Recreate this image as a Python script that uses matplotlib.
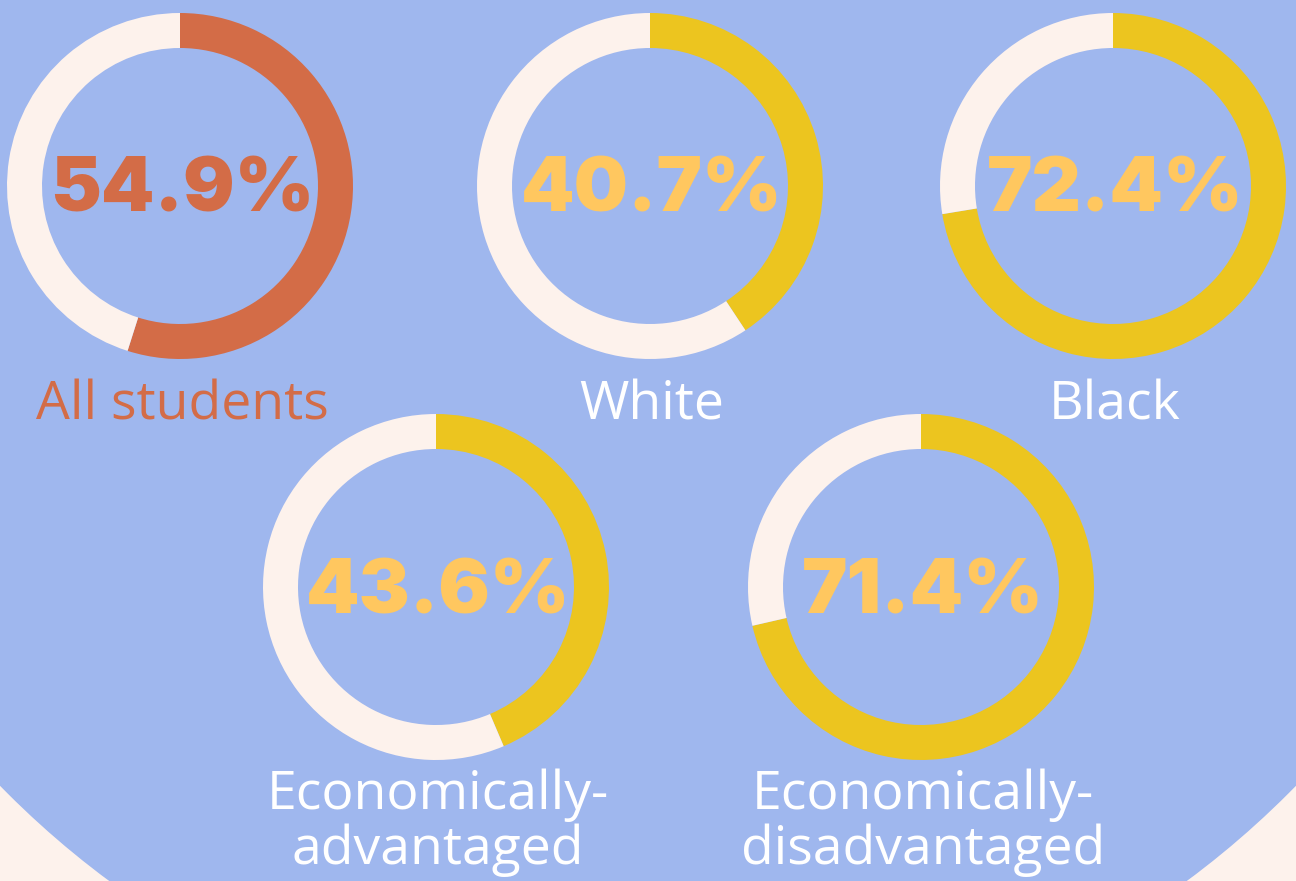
import matplotlib.pyplot as plt
from matplotlib import font_manager
from matplotlib.patches import Circle

# data
groups = ['All students', 'White', 'Black',
          'Economically-\nadvantaged', 'Economically-\ndisadvantaged']
shares = [54.9, 40.7, 72.4, 43.6, 71.4]

BLUE = '#9fb7ee'
CREAM = '#fdf2ec'
ORANGE = '#d36c47'
YELLOW = '#ecc51f'
PCT_YELLOW = '#ffc75f'


def pick_font(names, weight):
    for n in names:
        try:
            font_manager.findfont(font_manager.FontProperties(family=n, weight=weight),
                                  fallback_to_default=False)
            return n
        except ValueError:
            pass
    return 'DejaVu Sans'


pct_font = pick_font(['Inter', 'Roboto', 'Lato'], 'black')
lab_font = pick_font(['Open Sans', 'Noto Sans'], 'normal')

W, H = 1296, 881
# donut centres in image pixels (x, y from top)
centres = [(180, 186), (650, 186), (1113, 186), (436, 587), (921, 587)]
ring_colors = [ORANGE, YELLOW, YELLOW, YELLOW, YELLOW]
pct_colors = [ORANGE, PCT_YELLOW, PCT_YELLOW, PCT_YELLOW, PCT_YELLOW]
label_colors = [ORANGE, 'white', 'white', 'white', 'white']

fig = plt.figure(figsize=(W / 100, H / 100), dpi=100, facecolor=CREAM)
ax = fig.add_axes([0, 0, 1, 1])
ax.set_facecolor(CREAM)

ax.add_patch(Circle((648, H - 153), 905, color=BLUE, zorder=0))

for i, (g, v) in enumerate(zip(groups, shares)):
    cx, cy = centres[i]
    ax.pie([v, 100 - v], colors=[ring_colors[i], CREAM], startangle=90,
           counterclock=False, center=(cx, H - cy), radius=173,
           wedgeprops=dict(width=35, linewidth=0), frame=True)
    ax.text(cx + 2, H - cy - 26, f'{v}%', ha='center', va='baseline',
            fontsize=55, fontfamily=pct_font, fontweight='black',
            color=pct_colors[i], zorder=5)
    # va='baseline' puts the last line on the given baseline
    base = H - 419 if '\n' not in g else H - 864
    ax.text(cx + 2, base, g, ha='center', va='baseline', multialignment='center',
            fontsize=38.5, fontfamily=lab_font, color=label_colors[i],
            linespacing=1.03, zorder=5)

ax.set_xlim(0, W)
ax.set_ylim(0, H)
ax.set_aspect('equal')
ax.axis('off')

fig.savefig('out.png', dpi=100, facecolor=CREAM)
